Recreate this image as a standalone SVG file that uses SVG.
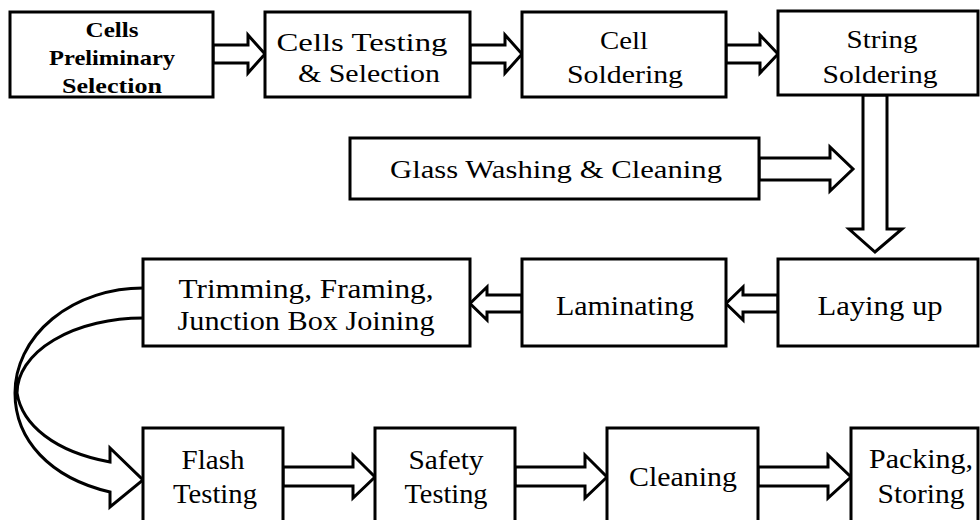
<svg xmlns="http://www.w3.org/2000/svg" width="980" height="520" viewBox="0 0 980 520" font-family="Liberation Serif, DejaVu Serif, Times New Roman, serif">
  <style>
    .box { fill: #ffffff; stroke: #000000; stroke-width: 3; }
    .arrow { fill: #ffffff; stroke: #000000; stroke-width: 3; stroke-linejoin: miter; }
    .t { font-size: 26px; fill: #000000; text-anchor: middle; }
    .l { font-size: 27px; fill: #000000; text-anchor: middle; }
    .b { font-size: 21px; font-weight: bold; fill: #000000; text-anchor: middle; }
  </style>
  <rect width="980" height="520" fill="#ffffff"/>

  <!-- connectors: hollow block arrows -->
  <g id="connectors">
    <polygon class="arrow" points="213,45 248,45 248,35 265,54 248,73 248,63 213,63"/>
    <polygon class="arrow" points="470,45 505,45 505,35 522,54 505,73 505,63 470,63"/>
    <polygon class="arrow" points="726,45 760,45 760,35 778,54 760,73 760,63 726,63"/>
    <polygon class="arrow" points="759,158 830,158 830,147 853,169 830,191 830,180 759,180"/>
    <polygon class="arrow" points="863,95 863,229 849,229 875,252 902,229 887,229 887,95"/>
    <polygon class="arrow" points="778,295 743,295 743,287 726,303.5 743,320 743,312 778,312"/>
    <polygon class="arrow" points="522,295 487,295 487,287 470,303.5 487,320 487,312 522,312"/>
    <path class="arrow" d="M143,288 A128,105 0 0 0 15,393 C15,440 50,478 110,492 L110,507 L143,480 L110,448 L110,462 C55,452 22,425 17,393 A126,75 0 0 1 143,318"/>
    <polygon class="arrow" points="283,467 353,467 353,455 375,477 353,498 353,486 283,486"/>
    <polygon class="arrow" points="515,467 585,467 585,455 607,477 585,498 585,486 515,486"/>
    <polygon class="arrow" points="758,467 828,467 828,455 851,477 828,498 828,486 758,486"/>
  </g>

  <g id="cells-preliminary-selection">
    <rect class="box" x="10" y="12" width="203" height="85"/>
    <text class="b" x="112" y="37" textLength="53" lengthAdjust="spacingAndGlyphs">Cells</text>
    <text class="b" x="112" y="65" textLength="126" lengthAdjust="spacingAndGlyphs">Preliminary</text>
    <text class="b" x="112" y="93" textLength="100" lengthAdjust="spacingAndGlyphs">Selection</text>
  </g>

  <g id="cells-testing-selection">
    <rect class="box" x="265" y="12" width="205" height="85"/>
    <text class="t" x="362" y="51" textLength="171" lengthAdjust="spacingAndGlyphs">Cells Testing</text>
    <text class="t" x="369" y="82" textLength="142" lengthAdjust="spacingAndGlyphs">&amp; Selection</text>
  </g>

  <g id="cell-soldering">
    <rect class="box" x="522" y="12" width="204" height="85"/>
    <text class="t" x="624" y="49" textLength="48" lengthAdjust="spacingAndGlyphs">Cell</text>
    <text class="t" x="625" y="83" textLength="116" lengthAdjust="spacingAndGlyphs">Soldering</text>
  </g>

  <g id="string-soldering">
    <rect class="box" x="778" y="11" width="200" height="84"/>
    <text class="t" x="882" y="48" textLength="71" lengthAdjust="spacingAndGlyphs">String</text>
    <text class="t" x="880" y="83" textLength="115" lengthAdjust="spacingAndGlyphs">Soldering</text>
  </g>

  <g id="glass-washing-cleaning">
    <rect class="box" x="350" y="138" width="409" height="61"/>
    <text class="t" x="556" y="178" font-size="24" textLength="332" lengthAdjust="spacingAndGlyphs">Glass Washing &amp; Cleaning</text>
  </g>

  <g id="trimming-framing">
    <rect class="box" x="143" y="259" width="327" height="87"/>
    <text class="l" x="306" y="298" textLength="255" lengthAdjust="spacingAndGlyphs">Trimming, Framing,</text>
    <text class="l" x="306" y="330" textLength="257" lengthAdjust="spacingAndGlyphs">Junction Box Joining</text>
  </g>

  <g id="laminating">
    <rect class="box" x="522" y="259" width="204" height="87"/>
    <text class="l" x="625" y="315" textLength="138" lengthAdjust="spacingAndGlyphs">Laminating</text>
  </g>

  <g id="laying-up">
    <rect class="box" x="778" y="259" width="200" height="87"/>
    <text class="l" x="880" y="315" textLength="125" lengthAdjust="spacingAndGlyphs">Laying up</text>
  </g>

  <g id="flash-testing">
    <rect class="box" x="143" y="428" width="140" height="102"/>
    <text class="l" x="213" y="469" textLength="63" lengthAdjust="spacingAndGlyphs">Flash</text>
    <text class="l" x="215" y="503" textLength="84" lengthAdjust="spacingAndGlyphs">Testing</text>
  </g>

  <g id="safety-testing">
    <rect class="box" x="375" y="428" width="140" height="102"/>
    <text class="l" x="446" y="469" textLength="75" lengthAdjust="spacingAndGlyphs">Safety</text>
    <text class="l" x="446" y="503" textLength="83" lengthAdjust="spacingAndGlyphs">Testing</text>
  </g>

  <g id="cleaning">
    <rect class="box" x="607" y="428" width="151" height="102"/>
    <text class="l" x="683" y="486" textLength="108" lengthAdjust="spacingAndGlyphs">Cleaning</text>
  </g>

  <g id="packing-storing">
    <rect class="box" x="851" y="428" width="127" height="102"/>
    <text class="l" x="921" y="468" textLength="104" lengthAdjust="spacingAndGlyphs">Packing,</text>
    <text class="l" x="921" y="503" textLength="87" lengthAdjust="spacingAndGlyphs">Storing</text>
  </g>
</svg>
